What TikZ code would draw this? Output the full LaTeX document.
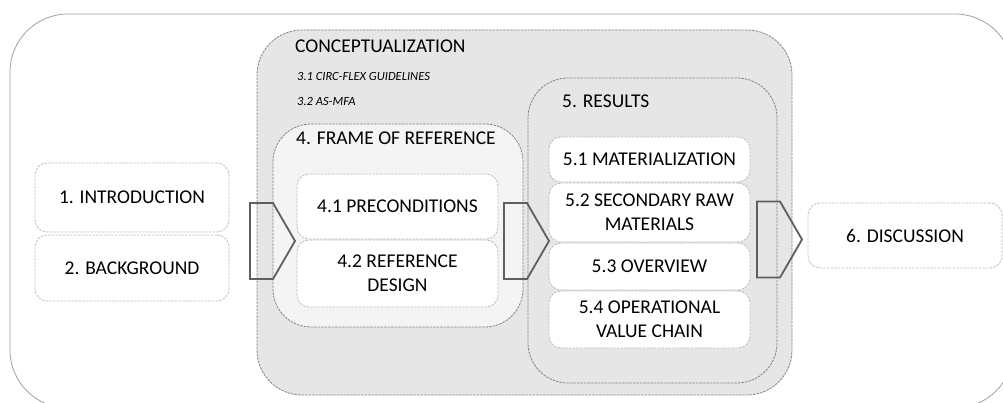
\documentclass[tikz,border=0pt]{standalone}
\usepackage{fontspec}
\setmainfont{Carlito}
\definecolor{panelgray}{HTML}{E6E6E6}
\definecolor{framegray}{HTML}{F4F4F4}
\definecolor{dashgray}{HTML}{858585}
\definecolor{boxline}{HTML}{BDBDBD}
\definecolor{arrowgray}{HTML}{5F5F5F}
\definecolor{outline}{HTML}{A0A0A0}
\tikzstyle{secbox}=[draw=boxline, line width=0.8pt, dash pattern=on 2.5pt off 1.2pt, fill=white, rounded corners=12pt, minimum width=201pt, inner sep=2pt, align=center, font=\fontsize{19.5}{24}\selectfont]
\tikzstyle{area}=[draw=dashgray, line width=0.8pt, dash pattern=on 2.5pt off 1pt, inner sep=0pt]
\tikzstyle{head}=[anchor=base west, inner sep=0pt, font=\fontsize{19.5}{24}\selectfont]
\tikzstyle{sub}=[anchor=base west, inner sep=0pt, font=\fontsize{12.5}{15}\selectfont\itshape]
% chevron, left edge at #1, middle height at #2
\newcommand{\Chev}[2]{
    \draw[arrowgray, line width=1.8pt, line join=miter, shift={(#1,#2)}]
        (0,-38) -- (23,-38) -- (45,0) -- (23,38) -- (0,38) -- cycle;
}

\begin{document}
\begin{tikzpicture}[x=1pt, y=-1pt]
    \useasboundingbox (0,0) rectangle (1003,403);

    % outer frame
    \draw[outline, line width=0.8pt, rounded corners=58pt] (10,14) rectangle (1013,408);

    % groups
    \node[area, fill=panelgray, rounded corners=45pt, minimum width=535pt, minimum height=365pt] (concept) at (524.5,212.5) {};
    \node[area, fill=framegray, rounded corners=38pt, minimum width=250pt, minimum height=203pt] (frame) at (398,225.5) {};
    \node[area, fill=panelgray, rounded corners=40pt, minimum width=249pt, minimum height=305pt] (results) at (652.5,230.5) {};

    \node[head] (conceptlbl) at (295,53) {CONCEPTUALIZATION};
    \node[sub] (guide) at (297,81) {3.1 CIRC-FLEX GUIDELINES};
    \node[sub] (asmfa) at (297,106) {3.2 AS-MFA};
    \node[head] (framelbl) at (296,145) {4. FRAME OF REFERENCE};
    \node[head] (resultslbl) at (562,108) {5. RESULTS};

    % left column
    \node[secbox, minimum width=194pt, minimum height=69pt] (intro) at (132,197.5) {1. INTRODUCTION};
    \node[secbox, minimum width=194pt, minimum height=66pt] (backgr) at (132,268) {2. BACKGROUND};

    % frame of reference
    \node[secbox, minimum height=65pt] (precond) at (397.5,206.5) {4.1 PRECONDITIONS};
    \node[secbox, minimum height=67pt] (refdesign) at (397.5,273.5) {4.2 REFERENCE\\DESIGN};

    % results
    \node[secbox, minimum height=45pt] (mat) at (649.5,159.5) {5.1 MATERIALIZATION};
    \node[secbox, minimum height=59pt] (secraw) at (649.5,212.5) {5.2 SECONDARY RAW\\MATERIALS};
    \node[secbox, minimum height=47pt] (overview) at (649.5,266.5) {5.3 OVERVIEW};
    \node[secbox, minimum height=57pt] (valchain) at (649.5,319.5) {5.4 OPERATIONAL\\VALUE CHAIN};

    % discussion
    \node[secbox, minimum width=194pt, minimum height=65pt] (disc) at (905,235.5) {6. DISCUSSION};

    % chevrons
    \Chev{250}{241}
    \Chev{504}{241}
    \Chev{757}{239.5}
\end{tikzpicture}
\end{document}
